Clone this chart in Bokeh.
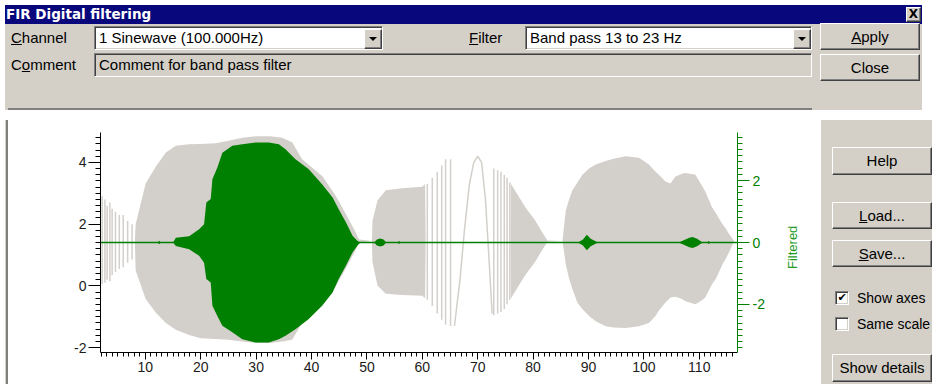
from bokeh.plotting import figure
from bokeh.models import Range1d, LinearAxis, SingleIntervalTicker, Div, PrintfTickFormatter
from bokeh.layouts import column, row
from bokeh.embed import file_html
from bokeh.resources import INLINE

# ---------------- data ----------------
# Raw channel (left axis): dense envelope segments, centre ~1.45
grey_x = [8.1, 8.25, 10.05, 11.9, 13.7, 15.5, 17.9, 20.0, 22.7, 25.0, 27.5, 30.0, 32.5, 34.7, 36.5, 38.3, 42.0, 44.3, 46.2, 47.7, 48.6,
          50.9, 51.0, 51.9, 53.4, 56.4, 60.0, 60.5, 60.6,
          75.95, 76.0, 78.6, 80.4, 81.7, 82.6,
          85.3, 85.9, 86.5, 87.1, 88.0, 88.9, 90.1, 91.3, 93.1, 94.5, 96.7, 99.1, 100.9, 102.1, 102.7, 103.9, 104.8, 105.7, 106.9, 107.5, 109.3, 110.6, 111.1, 112.3, 113.0, 114.2, 114.8, 115.4, 116.3]
grey_hi = [1.45, 2.0, 3.32, 3.87, 4.32, 4.54, 4.59, 4.6, 4.62, 4.7, 4.8, 4.85, 4.85, 4.8, 4.65, 4.1, 3.54, 2.94, 2.33, 1.83, 1.5,
           1.45, 2.1, 2.77, 3.1, 3.16, 3.21, 3.3, 1.45,
           1.45, 3.3, 2.55, 2.11, 1.72, 1.47,
           1.45, 2.44, 2.8, 3.1, 3.35, 3.6, 3.8, 3.93, 4.05, 4.12, 4.2, 4.15, 3.93, 3.7, 3.6, 3.38, 3.32, 3.54, 3.63, 3.66, 3.6, 3.21, 3.05, 2.55, 2.35, 2.0, 1.85, 1.67, 1.45]
grey_lo = [1.45, 0.5, -0.43, -0.87, -1.2, -1.42, -1.59, -1.7, -1.72, -1.75, -1.8, -1.85, -1.85, -1.8, -1.75, -1.2, -0.64, -0.04, 0.57, 1.07, 1.4,
           1.45, 0.78, 0.01, -0.26, -0.3, -0.32, -0.4, 1.45,
           1.45, -0.4, 0.35, 0.79, 1.18, 1.43,
           1.45, 0.7, 0.23, -0.1, -0.55, -0.75, -0.98, -1.15, -1.31, -1.35, -1.37, -1.31, -1.2, -0.98, -0.8, -0.54, -0.38, -0.35, -0.43, -0.5, -0.6, -0.45, -0.37, 0.05, 0.23, 0.7, 0.89, 1.1, 1.45]

# Raw channel: individual visible cycles (vertical strokes)
spike_x = [2.2, 2.7, 3.1, 3.6, 4.0, 4.6, 5.3, 6.0, 6.8, 7.6,
           60.9, 61.8, 62.7, 63.5, 64.2, 65.1,
           72.9, 73.6, 74.2, 74.8, 75.3, 75.8]
spike_hi = [2.9, 2.8, 2.6, 2.7, 2.5, 2.4, 2.3, 2.3, 2.1, 2.0,
            3.3, 3.5, 3.7, 3.9, 4.1, 4.1,
            3.8, 3.75, 3.7, 3.6, 3.5, 3.35]
spike_lo = [0.05, 0.1, 0.2, 0.15, 0.35, 0.45, 0.55, 0.6, 0.75, 0.85,
            -0.45, -0.65, -0.9, -1.1, -1.25, -1.3,
            -0.95, -0.9, -0.85, -0.75, -0.6, -0.45]

# Raw channel: one slow cycle
slow_x = [65.8, 66.8, 67.6, 68.5, 69.3, 70.0, 70.7, 71.4, 72.0, 72.6]
slow_y = [-1.3, 0.2, 1.8, 3.3, 4.0, 4.2, 4.0, 2.8, 1.0, -0.9]

# Filtered channel (right axis): envelope
green_x = [12.2, 12.5, 12.8,
           15.0, 15.5, 17.9, 19.7, 20.6, 21.0, 21.8, 22.1, 23.0, 23.9, 25.7, 27.5, 29.9, 32.3, 34.1, 35.3, 37.1, 39.5, 41.9, 43.8, 44.9, 46.2, 47.4, 48.3, 48.8,
           51.3, 51.8, 52.4, 53.0, 53.5,
           55.5, 55.8, 56.1,
           88.1, 89.0, 89.7, 90.4, 91.7,
           106.3, 107.3, 108.2, 108.8, 109.6, 110.6,
           111.4, 111.7, 112.0]
green_hi = [0, 0.06, 0,
            0, 0.15, 0.2, 0.43, 0.59, 1.29, 1.4, 2.04, 2.42, 2.9, 3.12, 3.17, 3.23, 3.23, 3.17, 3.01, 2.69, 2.36, 1.88, 1.45, 1.07, 0.65, 0.22, 0.05, 0,
            0, 0.1, 0.13, 0.1, 0,
            0, 0.05, 0,
            0, 0.1, 0.25, 0.12, 0,
            0, 0.08, 0.15, 0.18, 0.12, 0,
            0, 0.05, 0]
green_lo = [0, -0.06, 0,
            0, -0.11, -0.22, -0.43, -0.65, -1.18, -1.29, -2.04, -2.37, -2.69, -2.9, -3.12, -3.23, -3.23, -3.12, -3.01, -2.8, -2.47, -2.04, -1.61, -1.18, -0.75, -0.32, -0.1, 0,
            0, -0.1, -0.13, -0.1, 0,
            0, -0.05, 0,
            0, -0.1, -0.25, -0.12, 0,
            0, -0.08, -0.15, -0.18, -0.12, 0,
            0, -0.05, 0]
filt_span_x = [2.0, 116.8]
filt_span_y = [0, 0]

x_major = 10
y_major = 2
filt_axis_title = "Filtered"

GREY = "#D3CFCB"
GREEN = "#008000"
FACE = "#D4D0C8"
FONT = "'Liberation Sans', Arial, sans-serif"

TOP_H = 105
FIG_H = 264
FIG_W = 764

# ---------------- chart ----------------
p = figure(width=FIG_W, height=FIG_H, output_backend="svg", toolbar_location=None,
           x_range=Range1d(1.9, 116.9), y_range=Range1d(-2.16, 4.97),
           min_border_left=87, min_border_right=40, min_border_top=17, min_border_bottom=27,
           background_fill_color="white", border_fill_color="white")
p.outline_line_color = None
p.grid.visible = False
p.extra_y_ranges = {"filt": Range1d(-3.55, 3.55)}

p.varea(x=grey_x, y1=grey_lo, y2=grey_hi, fill_color=GREY)
p.segment(x0=spike_x, y0=spike_lo, x1=spike_x, y1=spike_hi, line_color=GREY, line_width=1.5)
p.line(slow_x, slow_y, line_color=GREY, line_width=1.5)
p.varea(x=green_x, y1=green_lo, y2=green_hi, fill_color=GREEN, y_range_name="filt")
p.line(filt_span_x, filt_span_y, line_color=GREEN, line_width=1.5, y_range_name="filt")

xa = p.xaxis[0]
xa.ticker = SingleIntervalTicker(interval=x_major, num_minor_ticks=10)
ya = p.yaxis[0]
ya.ticker = SingleIntervalTicker(interval=y_major, num_minor_ticks=10)
for ax in (xa, ya):
    ax.formatter = PrintfTickFormatter(format="%d")
    ax.axis_line_color = "#000000"
    ax.major_tick_line_color = "#000000"
    ax.minor_tick_line_color = "#000000"
    ax.major_label_text_color = "#1c1c1c"
    ax.major_label_text_font = "Liberation Sans"
    ax.major_label_text_font_size = "14px"
    ax.major_tick_in = 0
    ax.minor_tick_in = 0
xa.major_tick_out = 7
xa.minor_tick_out = 4
xa.major_label_standoff = 2
ya.major_tick_out = 12
ya.minor_tick_out = 5
ya.major_label_standoff = 2

ra = LinearAxis(y_range_name="filt", ticker=SingleIntervalTicker(interval=y_major, num_minor_ticks=10),
                formatter=PrintfTickFormatter(format="%d"))
ra.axis_line_color = GREEN
ra.major_tick_line_color = GREEN
ra.minor_tick_line_color = GREEN
ra.major_label_text_color = GREEN
ra.major_label_text_font = "Liberation Sans"
ra.major_label_text_font_size = "14px"
ra.major_tick_in = 0
ra.minor_tick_in = 0
ra.major_tick_out = 12
ra.minor_tick_out = 5
ra.major_label_standoff = 3
p.add_layout(ra, "right")

# ---------------- dialog chrome ----------------
def box(l, t, w, h, extra=""):
    return f"position:absolute;left:{l}px;top:{t}px;width:{w}px;height:{h}px;box-sizing:border-box;{extra}"

RAISED = ("background:%s;border:1px solid;border-color:#FFFFFF #404040 #404040 #FFFFFF;"
          "box-shadow:inset -1px -1px #808080;" % FACE)
SUNKEN = ("border:1px solid;border-color:#808080 #FFFFFF #FFFFFF #808080;"
          "box-shadow:inset 1px 1px #404040, inset -1px -1px %s;" % FACE)
TXT = f"font-family:{FONT};font-size:15px;color:#000;"

def button(l, t, w, h, label):
    return (f'<div style="{box(l, t, w, h, RAISED + TXT)}display:flex;align-items:center;'
            f'justify-content:center;">{label}</div>')

def label(l, t, h, txt, size=15):
    return (f'<div style="{box(l, t, 200, h, TXT)}font-size:{size}px;display:flex;align-items:center;'
            f'white-space:nowrap;">{txt}</div>')

def combo(l, t, w, h, txt):
    arrow = (f'<div style="{box(w - 20, 2, 18, h - 4, RAISED)}">'
             f'<div style="position:absolute;left:4px;top:{(h - 4) // 2 - 3}px;width:0;height:0;'
             f'border-left:4px solid transparent;border-right:4px solid transparent;border-top:4px solid #000;"></div></div>')
    return (f'<div style="{box(l, t, w, h, "background:#FFFFFF;" + SUNKEN + TXT)}">'
            f'<div style="position:absolute;left:4px;top:0;height:{h - 2}px;display:flex;align-items:center;white-space:nowrap;">{txt}</div>'
            f'{arrow}</div>')

def field(l, t, w, h, txt):
    return (f'<div style="{box(l, t, w, h, "background:" + FACE + ";" + SUNKEN + TXT)}">'
            f'<div style="position:absolute;left:4px;top:0;height:{h - 2}px;display:flex;align-items:center;white-space:nowrap;">{txt}</div></div>')

top_html = (
    f'<div style="position:relative;width:917px;height:{TOP_H}px;background:{FACE};overflow:hidden;">'
    f'<div style="{box(0, 0, 917, 19, "background:#08087C;")}"></div>'
    f'<div style="{box(1, 0, 400, 19, "color:#FFFFFF;font-family:DejaVu Sans, sans-serif;font-weight:bold;font-size:13.5px;")}'
    f'display:flex;align-items:center;white-space:nowrap;">FIR Digital filtering</div>'
    f'<div style="{box(901, 2, 15, 15, RAISED)}display:flex;align-items:center;justify-content:center;'
    f'font-family:DejaVu Sans;font-weight:bold;font-size:12px;color:#000;">X</div>'
    + label(6, 21, 24, "<u>C</u>hannel")
    + combo(89, 21, 289, 24, "1 Sinewave (100.000Hz)")
    + label(464, 21, 24, "<u>F</u>ilter")
    + combo(520, 21, 287, 24, "Band pass 13 to 23 Hz")
    + label(6, 48, 24, "C<u>o</u>mment")
    + field(89, 48, 718, 24, "Comment for band pass filter")
    + button(815, 18, 100, 27, "<u>A</u>pply")
    + button(815, 49, 100, 27, "Close")
    + f'<div style="{box(3, TOP_H - 2, 804, 2, "background:#808080;")}"></div>'
    + '</div>'
)
top_div = Div(text=top_html, width=917, height=TOP_H)

left_div = Div(text=(f'<div style="position:relative;width:3px;height:{FIG_H}px;background:{FACE};">'
                     f'<div style="{box(1, 0, 2, FIG_H, "background:#808080;")}"></div></div>'),
               width=3, height=FIG_H)

RIGHT_W = 917 - 3 - FIG_W
check_on = (f'<div style="{box(53, 171, 14, 14, "background:#FFFFFF;" + SUNKEN)}display:flex;align-items:center;'
            f'justify-content:center;font-family:DejaVu Sans;font-weight:bold;font-size:11px;color:#000;">&#10004;</div>')
check_off = f'<div style="{box(53, 197, 14, 14, "background:#FFFFFF;" + SUNKEN)}"></div>'
right_html = (
    f'<div style="position:relative;width:{RIGHT_W}px;height:{FIG_H}px;background:{FACE};overflow:hidden;">'
    f'<div style="{box(0, 0, 39, FIG_H, "background:#FFFFFF;")}"></div>'
    f'<div style="{box(2, 102, 18, 50, "font-family:Liberation Sans, sans-serif;font-size:13px;color:#1f9a1f;")}'
    f'display:flex;align-items:center;justify-content:center;writing-mode:vertical-rl;transform:rotate(180deg);'
    f'white-space:nowrap;">{filt_axis_title}</div>'
    + button(50, 27, 100, 28, "Help")
    + button(50, 82, 100, 27, "<u>L</u>oad...")
    + button(50, 120, 100, 27, "<u>S</u>ave...")
    + check_on + label(75, 166, 24, "Show axes", 14)
    + check_off + label(75, 192, 24, "Same scale", 14)
    + button(50, 234, 100, 28, "Show details")
    + '</div>'
)
right_div = Div(text=right_html, width=RIGHT_W, height=FIG_H)

layout = column(top_div, row(left_div, p, right_div, spacing=0), spacing=0)

open("out.html", "w").write(file_html(layout, INLINE))
